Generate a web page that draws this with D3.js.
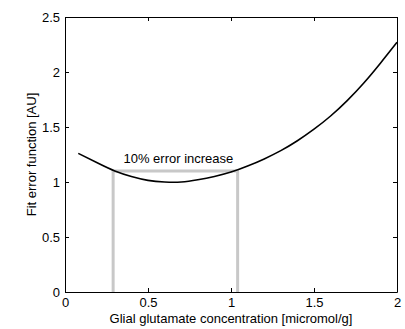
<!DOCTYPE html>
<html>
<head>
<meta charset="utf-8">
<script src="https://cdn.jsdelivr.net/npm/d3@7"></script>
<style>
  body { margin: 0; background: #fff; }
  text { font-family: "Liberation Sans", Arial, sans-serif; fill: #000; }
  .axis path, .axis line { stroke: #000; }
</style>
</head>
<body>
<svg id="chart"></svg>
<script>
const concentration = [0.08, 0.2, 0.3, 0.4, 0.5, 0.6, 0.7, 0.8, 0.9, 1.0, 1.1, 1.2, 1.3, 1.4, 1.5, 1.6, 1.7, 1.8, 1.9, 2.0];
const fitError = [1.26, 1.17, 1.10, 1.05, 1.015, 1.00, 1.00, 1.02, 1.05, 1.09, 1.145, 1.21, 1.285, 1.375, 1.48, 1.60, 1.74, 1.90, 2.08, 2.27];
const errorLevel = 1.1;
const boundLow = 0.29;
const boundHigh = 1.04;
const xTicks = [0, 0.5, 1, 1.5, 2];
const yTicks = [0, 0.5, 1, 1.5, 2, 2.5];

const margin = { top: 17, right: 8, bottom: 37, left: 65 };
const width = 405 - margin.left - margin.right;
const height = 329 - margin.top - margin.bottom;

const svg = d3.select("#chart").attr("width", 405).attr("height", 329);
const g = svg.append("g").attr("transform", `translate(${margin.left},${margin.top})`);

const xscale = d3.scaleLinear().domain([0, 2]).range([0, width]);
const yscale = d3.scaleLinear().domain([0, 2.5]).range([height, 0]);

// gray 10% band lines
const gray = "#c8c8c8";
g.append("path")
  .attr("fill", "none")
  .attr("stroke", gray)
  .attr("stroke-width", 3)
  .attr("d", d3.line()([
    [xscale(boundLow), yscale(0)],
    [xscale(boundLow), yscale(errorLevel)],
    [xscale(boundHigh), yscale(errorLevel)],
    [xscale(boundHigh), yscale(0)]
  ]));

// curve
const line = d3.line()
  .x((d, i) => xscale(concentration[i]))
  .y((d) => yscale(d))
  .curve(d3.curveNatural);
g.append("path")
  .datum(fitError)
  .attr("fill", "none")
  .attr("stroke", "#000")
  .attr("stroke-width", 1.6)
  .attr("d", line);

g.append("text")
  .attr("x", xscale((boundLow + boundHigh) / 2) + 3)
  .attr("y", yscale(errorLevel) - 8)
  .attr("text-anchor", "middle")
  .style("font-size", "13px")
  .text("10% error increase");

// axes, MATLAB style box with inward ticks
const fmt = (d) => String(d);
g.append("g").attr("class", "axis")
  .attr("transform", `translate(0,${height})`)
  .call(d3.axisBottom(xscale).tickValues(xTicks).tickFormat(fmt).tickSizeInner(-4).tickSizeOuter(0).tickPadding(6));
g.append("g").attr("class", "axis")
  .call(d3.axisTop(xscale).tickValues(xTicks).tickFormat("").tickSizeInner(-4).tickSizeOuter(0));
g.append("g").attr("class", "axis")
  .call(d3.axisLeft(yscale).tickValues(yTicks).tickFormat(fmt).tickSizeInner(-4).tickSizeOuter(0).tickPadding(5));
g.append("g").attr("class", "axis")
  .attr("transform", `translate(${width},0)`)
  .call(d3.axisRight(yscale).tickValues(yTicks).tickFormat("").tickSizeInner(-4).tickSizeOuter(0));
g.selectAll(".axis text").style("font-size", "13px").style("font-family", "'Liberation Sans', Arial, sans-serif");

svg.append("text")
  .attr("x", margin.left + width / 2)
  .attr("y", 323)
  .attr("text-anchor", "middle")
  .style("font-size", "13px")
  .text("Glial glutamate concentration [micromol/g]");

svg.append("text")
  .attr("transform", `translate(36,${margin.top + height / 2}) rotate(-90)`)
  .attr("text-anchor", "middle")
  .style("font-size", "13px")
  .text("Fit error function [AU]");
</script>
</body>
</html>
